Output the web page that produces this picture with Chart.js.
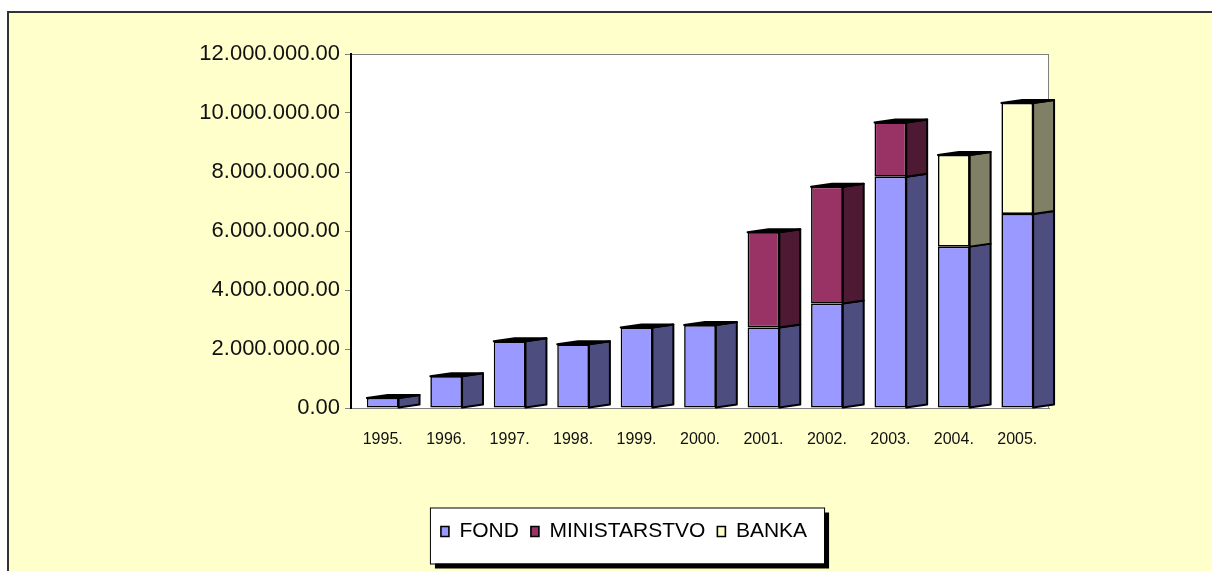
<!DOCTYPE html>
<html>
<head>
<meta charset="utf-8">
<script src="https://cdn.jsdelivr.net/npm/chart.js@4.4.0/dist/chart.umd.min.js"></script>
<style>
html, body { margin: 0; padding: 0; background: #fff; }
canvas { display: block; }
</style>
</head>
<body>
<canvas id="myChart" width="1212" height="571"></canvas>
<script>
const years = ['1995.', '1996.', '1997.', '1998.', '1999.', '2000.', '2001.', '2002.', '2003.', '2004.', '2005.'];
const fond = [340000, 1080000, 2260000, 2160000, 2730000, 2810000, 2730000, 3540000, 7840000, 5470000, 6580000];
const ministarstvo = [null, null, null, null, null, null, 3230000, 3960000, 1840000, null, null];
const banka = [null, null, null, null, null, null, null, null, null, 3110000, 3760000];
const yMax = 12000000;
const yStep = 2000000;

const frontColors = ['#9999FF', '#993366', '#FFFFCC'];
const sideColors = ['#4D4D80', '#4D1933', '#808066'];

const sans = "'Liberation Sans', Arial, sans-serif";

function money(v) {
    let s = Math.round(v).toString().replace(/\B(?=(\d{3})+(?!\d))/g, '.');
    return s + '.00';
}

// page frame, white plot area and the legend box with its shadow
const frame = {
    id: 'frame',
    beforeDraw(chart) {
        const ctx = chart.ctx, a = chart.chartArea, lg = chart.legend;
        ctx.save();
        ctx.fillStyle = '#fff';
        ctx.fillRect(0, 0, chart.width, chart.height);
        ctx.fillStyle = '#FFFFCC';
        ctx.fillRect(7, 11, chart.width, chart.height);
        ctx.strokeStyle = '#333';
        ctx.lineWidth = 2;
        ctx.beginPath();
        ctx.moveTo(8, chart.height);
        ctx.lineTo(8, 12);
        ctx.lineTo(chart.width, 12);
        ctx.stroke();

        ctx.fillStyle = '#fff';
        ctx.fillRect(a.left, a.top, a.width, a.height);
        ctx.strokeStyle = '#808080';
        ctx.lineWidth = 1;
        ctx.strokeRect(a.left + 0.5, a.top + 0.5, a.width - 1, a.height);

        const pad = lg.options.labels.padding;
        const w = lg.lineWidths[0] - pad;
        const cx = (lg.left + lg.right) / 2;
        const cy = lg.top + pad + lg.options.labels.font.size / 2;
        const x0 = cx - w / 2 - 11, x1 = cx + w / 2 + 17;
        const y0 = cy - 24, y1 = cy + 32;
        ctx.fillStyle = '#000';
        ctx.fillRect(x0 + 5, y0 + 5, x1 - x0, y1 - y0);
        ctx.fillStyle = '#fff';
        ctx.fillRect(x0, y0, x1 - x0, y1 - y0);
        ctx.strokeStyle = '#000';
        ctx.strokeRect(x0 + 0.5, y0 + 0.5, x1 - x0, y1 - y0);
        ctx.restore();
    }
};

// fake 3d: side face and top face from each bar element
const depth = {
    id: 'depth',
    afterDatasetsDraw(chart) {
        const ctx = chart.ctx;
        const sets = chart.data.datasets;
        ctx.save();
        ctx.lineWidth = 2;
        ctx.strokeStyle = '#000';
        ctx.lineJoin = 'round';
        for (let j = 0; j < chart.data.labels.length; j++) {
            let topBar = null;
            sets.forEach((ds, i) => {
                if (ds.data[j] == null) return;
                const b = chart.getDatasetMeta(i).data[j];
                const r = b.x + b.width / 2, dx = b.width * 0.66, dy = 3;
                ctx.fillStyle = sideColors[i];
                ctx.beginPath();
                ctx.moveTo(r, b.y);
                ctx.lineTo(r + dx, b.y - dy);
                ctx.lineTo(r + dx, b.base - dy);
                ctx.lineTo(r, b.base);
                ctx.closePath();
                ctx.fill();
                ctx.stroke();
                topBar = b;
            });
            if (topBar) {
                const b = topBar;
                const l = b.x - b.width / 2, r = b.x + b.width / 2, dx = b.width * 0.66, dy = 3;
                ctx.fillStyle = '#000';
                ctx.beginPath();
                ctx.moveTo(l, b.y);
                ctx.lineTo(l + dx, b.y - dy);
                ctx.lineTo(r + dx, b.y - dy);
                ctx.lineTo(r, b.y);
                ctx.closePath();
                ctx.fill();
                ctx.stroke();
            }
        }
        ctx.restore();
    }
};

function makeSet(label, values, i) {
    return {
        label: label,
        data: values,
        backgroundColor: frontColors[i],
        borderColor: '#000',
        borderWidth: 1.6,
        borderSkipped: false,
        categoryPercentage: 1,
        barPercentage: 0.5
    };
}

const config = {
    type: 'bar',
    data: {
        labels: years,
        datasets: [
            makeSet('FOND', fond, 0),
            makeSet('MINISTARSTVO', ministarstvo, 1),
            makeSet('BANKA', banka, 2)
        ]
    },
    options: {
        responsive: false,
        animation: false,
        layout: { padding: { left: 199, right: 163, top: 54, bottom: 19 } },
        plugins: {
            tooltip: { enabled: false },
            legend: {
                position: 'bottom',
                labels: {
                    boxWidth: 8,
                    boxHeight: 10,
                    padding: 12,
                    color: '#000',
                    font: { family: sans, size: 21 }
                }
            }
        },
        scales: {
            x: {
                stacked: true,
                grid: { display: false },
                border: { color: '#808080', width: 1 },
                ticks: {
                    color: '#111',
                    padding: 14,
                    maxRotation: 0,
                    font: { family: sans, size: 16 }
                },
                afterFit(scale) { scale.height = 101; }
            },
            y: {
                stacked: true,
                min: 0,
                max: yMax,
                grid: { drawOnChartArea: false, drawTicks: true, tickLength: 6, color: '#808080' },
                border: { color: '#000', width: 2 },
                ticks: {
                    stepSize: yStep,
                    color: '#111',
                    padding: 5,
                    font: { family: sans, size: 22 },
                    callback: (v) => money(v)
                },
                afterFit(scale) { scale.width = 152; }
            }
        }
    },
    plugins: [frame, depth]
};

const myChart = new Chart(document.querySelector('#myChart'), config);
</script>
</body>
</html>
